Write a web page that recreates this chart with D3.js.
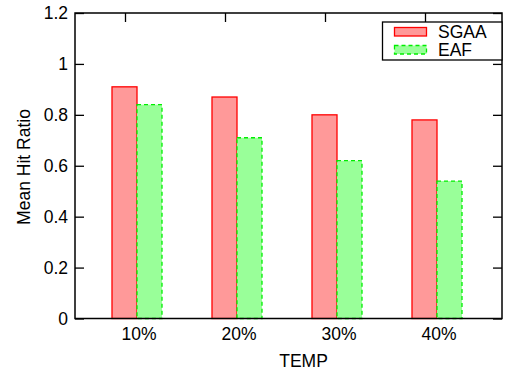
<!DOCTYPE html>
<html>
<head>
<meta charset="utf-8">
<script src="https://cdn.jsdelivr.net/npm/d3@7"></script>
<style>
  body { margin: 0; background: #fff; }
  svg { display: block; }
  text { font-family: 'Liberation Sans', Arial, sans-serif; }
</style>
</head>
<body>
<svg id="vis" width="507" height="371"></svg>
<script>
// chart values
const categories = ['10%', '20%', '30%', '40%'];
const seriesNames = ['SGAA', 'EAF'];
const sgaa = [0.91, 0.87, 0.80, 0.78];
const eaf = [0.84, 0.71, 0.62, 0.54];
const yTicks = [0, 0.2, 0.4, 0.6, 0.8, 1, 1.2];
const yTickLabels = ['0', '0.2', '0.4', '0.6', '0.8', '1', '1.2'];

const m = { left: 75, right: 502, top: 13, bottom: 318.5 };
const fs = '17.5px';
const svg = d3.select('#vis');

const xScale = d3.scaleLinear().domain([-0.62, 3.65]).range([m.left, m.right]);
const yScale = d3.scaleLinear().domain([0, 1.2]).range([m.bottom, m.top]);
const barW = 0.25;

const styles = [
    { fill: '#ff9999', stroke: '#ff0000', dash: null },
    { fill: '#99ff99', stroke: '#00ee00', dash: '4,3' }
];
const series = [sgaa, eaf];

// bars
series.forEach((vals, s) => {
    svg.append('g').selectAll('rect')
        .data(vals)
        .enter()
        .append('rect')
        .attr('x', (d, i) => xScale(i - barW + s * barW))
        .attr('y', (d) => yScale(d))
        .attr('width', xScale(barW) - xScale(0))
        .attr('height', (d) => yScale(0) - yScale(d))
        .attr('fill', styles[s].fill)
        .attr('stroke', styles[s].stroke)
        .attr('stroke-width', 1.3)
        .attr('stroke-dasharray', styles[s].dash);
});

// frame
svg.append('rect')
    .attr('x', m.left).attr('y', m.top)
    .attr('width', m.right - m.left).attr('height', m.bottom - m.top)
    .attr('fill', 'none').attr('stroke', '#000').attr('stroke-width', 1.5);

// y ticks (left + mirrored right)
const yAxisL = svg.append('g')
    .attr('transform', 'translate(' + m.left + ',0)')
    .call(d3.axisRight(yScale).tickValues(yTicks).tickSize(9).tickFormat(''));
const yAxisR = svg.append('g')
    .attr('transform', 'translate(' + m.right + ',0)')
    .call(d3.axisLeft(yScale).tickValues(yTicks).tickSize(9).tickFormat(''));
[yAxisL, yAxisR].forEach(a => {
    a.select('.domain').remove();
    a.selectAll('line').attr('stroke', '#000').attr('stroke-width', 1.3);
});

svg.append('g').selectAll('text')
    .data(yTicks)
    .enter()
    .append('text')
    .attr('x', 68)
    .attr('y', (d) => yScale(d) + 6)
    .attr('text-anchor', 'end')
    .attr('font-size', fs)
    .text((d, i) => yTickLabels[i]);

// x ticks (top side, mirrored)
const xAxisT = svg.append('g')
    .attr('transform', 'translate(0,' + m.top + ')')
    .call(d3.axisBottom(xScale).tickValues(categories.map((c, i) => i - 0.12)).tickSize(9).tickFormat(''));
xAxisT.select('.domain').remove();
xAxisT.selectAll('line').attr('stroke', '#000').attr('stroke-width', 1.3);

svg.append('g').selectAll('text')
    .data(categories)
    .enter()
    .append('text')
    .attr('x', (d, i) => xScale(i) + 2)
    .attr('y', 339.5)
    .attr('text-anchor', 'middle')
    .attr('font-size', fs)
    .text((d) => d);

// axis titles
svg.append('text')
    .attr('x', 303.5)
    .attr('y', 366.5)
    .attr('text-anchor', 'middle')
    .attr('font-size', fs)
    .text('TEMP');

svg.append('text')
    .attr('transform', 'translate(30,167) rotate(-90)')
    .attr('text-anchor', 'middle')
    .attr('font-size', fs)
    .text('Mean Hit Ratio');

// legend
const legend = svg.append('g');
legend.append('rect')
    .attr('x', 382.5).attr('y', 22)
    .attr('width', m.right - 382.5).attr('height', 38)
    .attr('fill', '#fff').attr('stroke', '#000').attr('stroke-width', 1.3);
seriesNames.forEach((name, s) => {
    legend.append('rect')
        .attr('x', 394.5).attr('y', 27.5 + s * 18)
        .attr('width', 32).attr('height', 8.5)
        .attr('fill', styles[s].fill)
        .attr('stroke', styles[s].stroke)
        .attr('stroke-width', 1.3)
        .attr('stroke-dasharray', styles[s].dash);
    legend.append('text')
        .attr('x', 438).attr('y', 37.5 + s * 18)
        .attr('font-size', fs)
        .text(name);
});
</script>
</body>
</html>
